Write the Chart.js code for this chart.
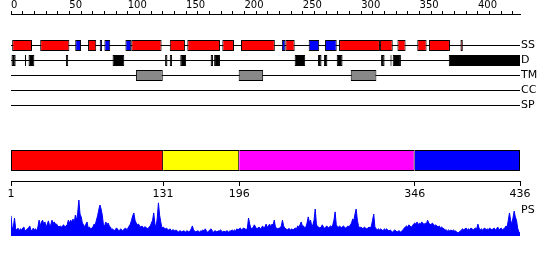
<!DOCTYPE html>
<html>
<head>
<meta charset="utf-8">
<title>Sequence feature summary</title>
<script src="https://cdn.jsdelivr.net/npm/chart.js@4"></script>
<style>
    html, body { margin: 0; padding: 0; background: #fff; }
    #feature-chart { display: block; }
</style>
</head>
<body>
<canvas id="feature-chart" width="550" height="260"></canvas>
<script>
const seqLength = 436;

// feature ranges, in residues
const helixRanges = [[1, 18], [25, 50], [66, 73], [103, 129], [136, 149], [151, 179], [181, 191], [197, 226],
    [235, 243], [281, 316], [316, 327], [331, 338], [348, 356], [358, 376], [385, 387]];
const strandRanges = [[55, 60], [76, 78], [80, 85], [98, 103], [232, 235], [255, 264], [269, 279]];
const disorderRanges = [[0, 4], [12, 13], [15, 20], [47, 49], [87, 97], [132, 134], [136, 138], [145, 150],
    [171, 173], [174, 179], [243, 252], [263, 266], [268, 271], [279, 284], [317, 320], [325, 326],
    [327, 334], [375, 436]];
const tmRanges = [[107, 130], [195, 216], [291, 313]];
const ccRanges = [];
const spRanges = [];

const rowNames = ['SS', 'D', 'TM', 'CC', 'SP', 'PS'];

const domainBounds = [1, 131, 196, 346, 436];
const domainColors = ['#ff0000', '#ffff00', '#ff00ff', '#0000ff'];

const rulerTicks = [0, 10, 20, 30, 40, 50, 60, 70, 80, 90, 100, 110, 120, 130, 140, 150, 160, 170, 180, 190,
    200, 210, 220, 230, 240, 250, 260, 270, 280, 290, 300, 310, 320, 330, 340, 350, 360, 370, 380, 390,
    400, 410, 420, 430];
const domainTicks = [1, 131, 196, 346, 436];

// per-residue PS profile (0-100)
const psScores = [
    56, 22, 25, 50, 20, 17, 22, 14, 20, 17, 22, 25, 14, 17, 20, 22, 28, 17, 14, 22,
    17, 20, 14, 25, 44, 28, 39, 44, 33, 39, 25, 33, 42, 28, 31, 44, 36, 39, 33, 33,
    28, 25, 28, 25, 28, 31, 25, 28, 31, 44, 36, 44, 39, 47, 36, 58, 44, 64, 100, 61,
    53, 36, 31, 25, 33, 39, 22, 25, 20, 22, 25, 33, 31, 44, 56, 72, 86, 75, 58, 31,
    28, 39, 31, 36, 28, 25, 17, 20, 14, 17, 22, 20, 14, 17, 20, 14, 17, 20, 22, 17,
    22, 28, 33, 44, 56, 64, 44, 36, 31, 33, 28, 25, 28, 22, 25, 25, 22, 20, 25, 28,
    36, 44, 64, 33, 25, 50, 92, 58, 39, 22, 25, 22, 20, 22, 17, 17, 20, 14, 17, 17,
    14, 17, 14, 11, 14, 14, 11, 14, 14, 11, 14, 14, 11, 14, 20, 28, 17, 14, 11, 14,
    14, 11, 14, 14, 17, 14, 20, 14, 11, 14, 17, 20, 14, 11, 14, 14, 11, 14, 14, 17,
    14, 11, 14, 11, 14, 14, 11, 14, 14, 17, 14, 17, 14, 20, 17, 20, 22, 17, 20, 22,
    20, 17, 22, 50, 33, 22, 20, 25, 31, 25, 20, 22, 25, 20, 22, 28, 22, 25, 33, 25,
    28, 33, 25, 33, 31, 44, 25, 22, 20, 22, 22, 28, 44, 28, 22, 20, 17, 20, 20, 17,
    20, 17, 20, 22, 20, 28, 25, 31, 39, 28, 28, 22, 25, 36, 53, 39, 44, 28, 31, 44,
    75, 33, 25, 25, 22, 25, 31, 25, 22, 25, 28, 22, 25, 28, 25, 31, 44, 67, 31, 25,
    25, 28, 22, 25, 28, 25, 22, 25, 28, 25, 31, 36, 47, 44, 61, 75, 44, 28, 22, 25,
    22, 20, 25, 22, 20, 22, 25, 22, 28, 44, 61, 25, 20, 17, 20, 17, 20, 17, 14, 20,
    17, 20, 17, 14, 17, 14, 11, 14, 17, 14, 11, 14, 14, 11, 14, 17, 22, 25, 28, 25,
    31, 28, 25, 28, 33, 36, 33, 39, 31, 36, 33, 39, 36, 31, 36, 33, 44, 36, 33, 31,
    36, 33, 28, 31, 28, 25, 28, 22, 25, 22, 20, 17, 17, 14, 17, 14, 17, 14, 17, 14,
    14, 11, 8, 11, 14, 17, 20, 17, 20, 22, 17, 20, 17, 22, 20, 17, 20, 22, 20, 33,
    22, 17, 20, 17, 20, 22, 17, 20, 17, 22, 20, 17, 20, 22, 17, 20, 25, 17, 20, 22,
    17, 20, 22, 28, 25, 44, 64, 44, 33, 50, 69, 53, 44, 22, 11, 8
];

document.addEventListener('DOMContentLoaded', () => {
    const canvas = document.getElementById('feature-chart');

    // layout: the 'y' scale runs in page pixels so rows can be placed by position
    const areaTop = 14;
    const areaBottom = 260;
    const rowY = { SS: 45.5, D: 60.5, TM: 75.5, CC: 90.5, SP: 105.5, PS: 210 };
    const domainRowY = 160.5;
    const axisRowY = 181;
    const psBasePx = 236;
    const psTopPx = 200;
    const psMaxValue = 100;

    const psPxPerUnit = (psBasePx - psTopPx) / psMaxValue;
    const psMin = -(areaBottom - psBasePx) / psPxPerUnit;
    const psMax = psMin + (areaBottom - areaTop) / psPxPerUnit;

    const font = (size) => ({ family: 'DejaVu Sans', size: size });

    function featureBars(ranges, row, color) {
        return {
            type: 'bar',
            indexAxis: 'y',
            xAxisID: 'x',
            yAxisID: 'y',
            grouped: false,
            data: ranges.map(r => ({ x: r, y: rowY[row] })),
            backgroundColor: color,
            borderColor: '#000',
            borderWidth: 1,
            borderSkipped: false,
            inflateAmount: 0,
            barThickness: 11
        };
    }

    const domainBar = {
        type: 'bar',
        indexAxis: 'y',
        xAxisID: 'x2',
        yAxisID: 'y',
        grouped: false,
        data: domainColors.map((c, i) => ({ x: [domainBounds[i], domainBounds[i + 1]], y: domainRowY })),
        backgroundColor: domainColors,
        borderColor: '#000',
        borderWidth: 1,
        borderSkipped: ctx => ctx.dataIndex === 0 ? false : 'left',
        inflateAmount: 0,
        barThickness: 21
    };

    const psLine = {
        type: 'line',
        xAxisID: 'x2',
        yAxisID: 'yp',
        data: psScores.map((v, i) => ({ x: i + 1, y: v })),
        borderColor: '#0000ff',
        backgroundColor: '#0000ff',
        borderWidth: 1,
        pointRadius: 0,
        tension: 0,
        fill: 'origin'
    };

    new Chart(canvas, {
        type: 'bar',
        data: {
            datasets: [
                featureBars(helixRanges, 'SS', '#ff0000'),
                featureBars(strandRanges, 'SS', '#0000ff'),
                featureBars(disorderRanges, 'D', '#000000'),
                featureBars(tmRanges, 'TM', '#888888'),
                featureBars(ccRanges, 'CC', '#888888'),
                featureBars(spRanges, 'SP', '#888888'),
                domainBar,
                psLine
            ]
        },
        options: {
            responsive: false,
            animation: false,
            devicePixelRatio: 1,
            layout: { padding: { left: 11, right: 0, top: 0, bottom: 0 } },
            plugins: {
                legend: { display: false },
                tooltip: { enabled: false }
            },
            scales: {
                x: {
                    type: 'linear',
                    position: 'top',
                    min: 0,
                    max: seqLength,
                    offset: false,
                    stacked: false,
                    afterFit: s => { s.height = areaTop; },
                    afterBuildTicks: s => { s.ticks = rulerTicks.map(v => ({ value: v })); },
                    grid: { drawOnChartArea: false, offset: false, tickLength: 3, color: '#000' },
                    border: { color: '#000' },
                    ticks: {
                        autoSkip: false,
                        maxRotation: 0,
                        align: 'start',
                        padding: 0,
                        color: '#000',
                        font: font(10),
                        callback: v => v % 50 === 0 ? String(v) : ''
                    }
                },
                x2: {
                    type: 'linear',
                    axis: 'x',
                    position: { y: axisRowY },
                    min: 1,
                    max: seqLength,
                    offset: false,
                    stacked: false,
                    afterBuildTicks: s => { s.ticks = domainTicks.map(v => ({ value: v })); },
                    grid: { drawOnChartArea: false, offset: false, tickLength: 4, color: '#000' },
                    border: { color: '#000' },
                    ticks: {
                        autoSkip: false,
                        maxRotation: 0,
                        padding: 3,
                        color: '#000',
                        font: font(11)
                    }
                },
                y: {
                    type: 'linear',
                    min: areaTop,
                    max: areaBottom,
                    reverse: true,
                    offset: false,
                    grid: { offset: false },
                    display: false
                },
                yr: {
                    type: 'linear',
                    position: 'right',
                    min: areaTop,
                    max: areaBottom,
                    reverse: true,
                    offset: false,
                    afterFit: s => { s.width = 30; s.paddingTop = 0; s.paddingBottom = 0; },
                    afterBuildTicks: s => { s.ticks = rowNames.map(n => ({ value: rowY[n] })); },
                    grid: {
                        offset: false,
                        drawTicks: false,
                        color: ctx => (ctx.tick && ctx.tick.value === rowY.PS) ? 'rgba(0,0,0,0)' : '#000'
                    },
                    border: { display: false },
                    ticks: {
                        padding: 1,
                        color: '#000',
                        font: font(11),
                        callback: (v, i) => rowNames[i]
                    }
                },
                yp: {
                    type: 'linear',
                    axis: 'y',
                    min: psMin,
                    max: psMax,
                    offset: false,
                    display: false
                }
            }
        }
    });
});
</script>
</body>
</html>
